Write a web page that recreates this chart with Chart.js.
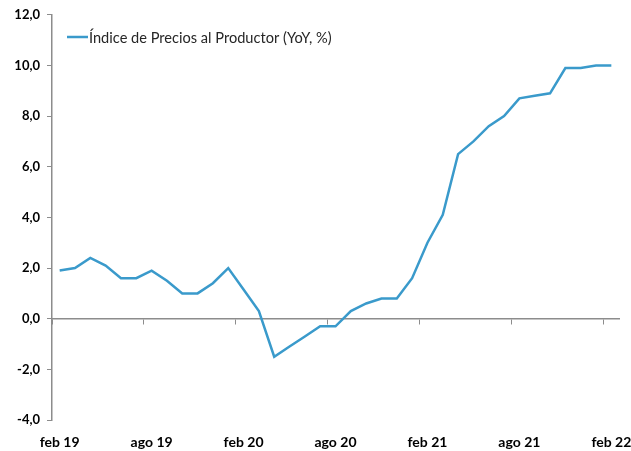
<!DOCTYPE html>
<html>
<head>
<meta charset="utf-8">
<script src="https://cdn.jsdelivr.net/npm/chart.js@4"></script>
<style>
  html, body { margin: 0; padding: 0; background: #fff; }
  #wrap { width: 631px; height: 451px; }
</style>
</head>
<body>
<div id="wrap"><canvas id="ipp-chart"></canvas></div>
<script>
// feb 19 .. feb 22, monthly
const labels = [
  'feb 19', 'mar 19', 'abr 19', 'may 19', 'jun 19', 'jul 19', 'ago 19', 'sep 19', 'oct 19', 'nov 19', 'dic 19',
  'ene 20', 'feb 20', 'mar 20', 'abr 20', 'may 20', 'jun 20', 'jul 20', 'ago 20', 'sep 20', 'oct 20', 'nov 20', 'dic 20',
  'ene 21', 'feb 21', 'mar 21', 'abr 21', 'may 21', 'jun 21', 'jul 21', 'ago 21', 'sep 21', 'oct 21', 'nov 21', 'dic 21',
  'ene 22', 'feb 22',
]

const ippValues = [
  1.9, 2.0, 2.4, 2.1, 1.6, 1.6, 1.9, 1.5, 1.0, 1.0, 1.4,
  2.0, 1.15, 0.3, -1.5, -1.1, -0.7, -0.3, -0.3, 0.3, 0.6, 0.8, 0.8,
  1.6, 3.0, 4.1, 6.5, 7.0, 7.6, 8.0, 8.7, 8.8, 8.9, 9.9, 9.9,
  10.0, 10.0,
]

const seriesLabel = 'Índice de Precios al Productor (YoY, %)'
const LINE_COLOR = '#3a9acb'
const AXIS_COLOR = '#8c8c8c'
const FONT = 'Lato, "Open Sans", sans-serif'

// legend drawn as in the source: short line + text, inside the plot
const insideLegend = {
  id: 'insideLegend',
  afterDraw(chart) {
    const { ctx, chartArea } = chart
    const x = chartArea.left + 15
    const y = 37
    ctx.save()
    ctx.strokeStyle = LINE_COLOR
    ctx.lineWidth = 2.5
    ctx.beginPath()
    ctx.moveTo(x, y)
    ctx.lineTo(x + 21, y)
    ctx.stroke()
    ctx.fillStyle = '#262626'
    ctx.font = '14.6px ' + FONT
    ctx.textBaseline = 'middle'
    ctx.fillText(chart.data.datasets[0].label, x + 22, y + 1)
    ctx.restore()
  },
}

new Chart(document.getElementById('ipp-chart'), {
  type: 'line',
  data: {
    labels: labels,
    datasets: [
      {
        label: seriesLabel,
        data: ippValues,
        xAxisID: 'x',
        yAxisID: 'y',
        borderColor: LINE_COLOR,
        backgroundColor: LINE_COLOR,
        borderWidth: 2.5,
        pointRadius: 0,
        tension: 0,
      },
    ],
  },
  options: {
    responsive: true,
    maintainAspectRatio: false,
    animation: false,
    layout: { padding: { left: 0, right: 12, top: 14, bottom: 0 } },
    plugins: {
      legend: { display: false },
      tooltip: { enabled: false },
    },
    scales: {
      x: {
        type: 'category',
        position: { y: 0 },
        offset: true,
        grid: {
          offset: true,
          drawOnChartArea: false,
          drawTicks: true,
          tickLength: 5,
          tickWidth: 1,
          tickColor: (ctx) => (ctx.index % 6 === 0 ? AXIS_COLOR : 'rgba(0,0,0,0)'),
        },
        border: { display: true, color: AXIS_COLOR, width: 1.5 },
        ticks: { display: false },
      },
      x2: {
        type: 'category',
        position: 'bottom',
        offset: true,
        grid: { display: false, drawTicks: false },
        border: { display: false },
        afterFit: (scale) => {
          scale.height = 31
          scale.paddingLeft = 0
          scale.paddingRight = 0
        },
        ticks: {
          autoSkip: false,
          maxRotation: 0,
          padding: 14,
          color: '#000',
          font: { family: FONT, size: 14, weight: 'bold' },
          callback: function (value, index) {
            return index % 6 === 0 ? this.getLabelForValue(value) : ''
          },
        },
      },
      y: {
        min: -4,
        max: 12,
        afterFit: (scale) => { scale.width = 52 },
        grid: {
          drawOnChartArea: false,
          drawTicks: true,
          tickLength: 5,
          tickColor: AXIS_COLOR,
        },
        border: { display: true, color: AXIS_COLOR, width: 1.5 },
        ticks: {
          stepSize: 2,
          padding: 7,
          color: '#000',
          font: { family: FONT, size: 13, weight: 'bold' },
          callback: (v) => v.toFixed(1).replace('.', ','),
        },
      },
    },
  },
  plugins: [insideLegend],
})
</script>
</body>
</html>
